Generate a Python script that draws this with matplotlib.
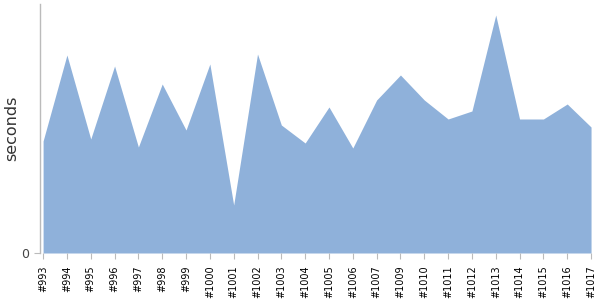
import matplotlib
matplotlib.use("Agg")
import matplotlib.pyplot as plt

builds = ["#993", "#994", "#995", "#996", "#997", "#998", "#999", "#1000",
          "#1001", "#1002", "#1003", "#1004", "#1005", "#1006", "#1007",
          "#1009", "#1010", "#1011", "#1012", "#1013", "#1014", "#1015",
          "#1016", "#1017"]
seconds = [112, 198, 114, 187, 106, 169, 123, 189,
           48, 199, 128, 110, 146, 105, 153,
           178, 153, 134, 142, 238, 134, 134,
           149, 126]

fig = plt.figure(figsize=(6, 3), dpi=100)
ax = fig.add_axes([40/600, 47/300, 552/600, 249/300])

x = list(range(len(builds)))
ax.fill_between(x, 0, seconds, color="#8fb1da", linewidth=0)

ax.set_xlim(-0.13, len(builds) - 1 + 0.04)
ax.set_ylim(0, 249)

ax.set_xticks(x)
ax.set_xticklabels(builds, rotation=90, fontsize=7, color="black")
ax.set_yticks([0])
ax.set_yticklabels(["0"], fontsize=9, color="#444444")
ax.tick_params(axis="x", length=4, width=0.8, color="#bbbbbb", pad=5)
ax.tick_params(axis="y", length=4, width=0.8, color="#bbbbbb", pad=4)

for s in ["top", "right", "bottom"]:
    ax.spines[s].set_visible(False)
ax.spines["left"].set_color("#bbbbbb")
ax.spines["left"].set_linewidth(1)

ax.set_ylabel("seconds", fontsize=11.5, color="#333333")
ax.yaxis.set_label_coords(-21/552, 0.5)

fig.savefig("out.png", dpi=100)
